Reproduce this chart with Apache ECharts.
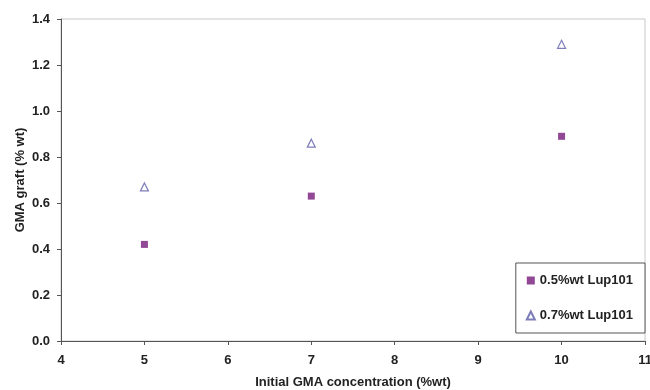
<!DOCTYPE html>
<html>
<head>
<meta charset="utf-8">
<script src="https://cdn.jsdelivr.net/npm/echarts@6/dist/echarts.min.js"></script>
<style>
  html, body { margin: 0; padding: 0; background: #fff; }
  #chart { width: 650px; height: 390px; }
</style>
</head>
<body>
<div id="chart"></div>
<script>
// GMA graft vs initial GMA concentration
const concentrations = [5, 7, 10];
const graftLup05 = [0.42, 0.63, 0.89];
const graftLup07 = [0.67, 0.86, 1.29];
const seriesNames = ["0.5%wt Lup101", "0.7%wt Lup101"];

const font = "Liberation Sans, Arial, sans-serif";

function pairs(xs, ys) {
  return xs.map((x, i) => [x, ys[i]]);
}

const chart = echarts.init(document.getElementById("chart"));

chart.setOption({
  animation: false,
  grid: {
    left: 61, right: 5, top: 19, bottom: 49,
    outerBoundsMode: "none",
    containLabel: false,
    show: true, borderColor: "#c8c8c8", borderWidth: 1
  },
  legend: {
    orient: "vertical",
    right: 5, bottom: 57,
    padding: [11, 12, 11, 10],
    itemGap: 22,
    itemWidth: 8, itemHeight: 8,
    borderColor: "#555", borderWidth: 1,
    backgroundColor: "#fff",
    textStyle: { fontFamily: font, fontWeight: "bold", fontSize: 13, color: "#222" },
    data: [
      { name: seriesNames[0], icon: "rect" },
      { name: seriesNames[1], icon: "triangle" }
    ]
  },
  xAxis: {
    type: "value",
    min: 4, max: 11, interval: 1,
    name: "Initial GMA concentration (%wt)",
    nameLocation: "middle", nameGap: 35,
    nameMoveOverlap: false,
    nameTextStyle: { fontFamily: font, fontWeight: "bold", fontSize: 13, color: "#222" },
    axisLine: { lineStyle: { color: "#555" } },
    axisTick: { length: 4, lineStyle: { color: "#555" } },
    axisLabel: { fontFamily: font, fontWeight: "bold", fontSize: 13, color: "#222", margin: 13 },
    splitLine: { show: false }
  },
  yAxis: {
    type: "value",
    min: 0, max: 1.4, interval: 0.2,
    name: "GMA graft (% wt)",
    nameLocation: "middle", nameGap: 34,
    nameMoveOverlap: false,
    nameTextStyle: { fontFamily: font, fontWeight: "bold", fontSize: 13, color: "#222" },
    axisLine: { show: true, lineStyle: { color: "#555" } },
    axisTick: { show: true, length: 4, lineStyle: { color: "#555" } },
    axisLabel: {
      fontFamily: font, fontWeight: "bold", fontSize: 13, color: "#222", margin: 11,
      formatter: v => v.toFixed(1)
    },
    splitLine: { show: false }
  },
  series: [
    {
      name: seriesNames[0],
      type: "scatter",
      symbol: "rect",
      symbolSize: 7,
      itemStyle: { color: "#761a7a" },
      data: pairs(concentrations, graftLup05)
    },
    {
      name: seriesNames[1],
      type: "scatter",
      symbol: "triangle",
      symbolSize: 8,
      itemStyle: { color: "#fff", borderColor: "#5c5ca8", borderWidth: 1.2 },
      data: pairs(concentrations, graftLup07)
    }
  ]
});
</script>
</body>
</html>
